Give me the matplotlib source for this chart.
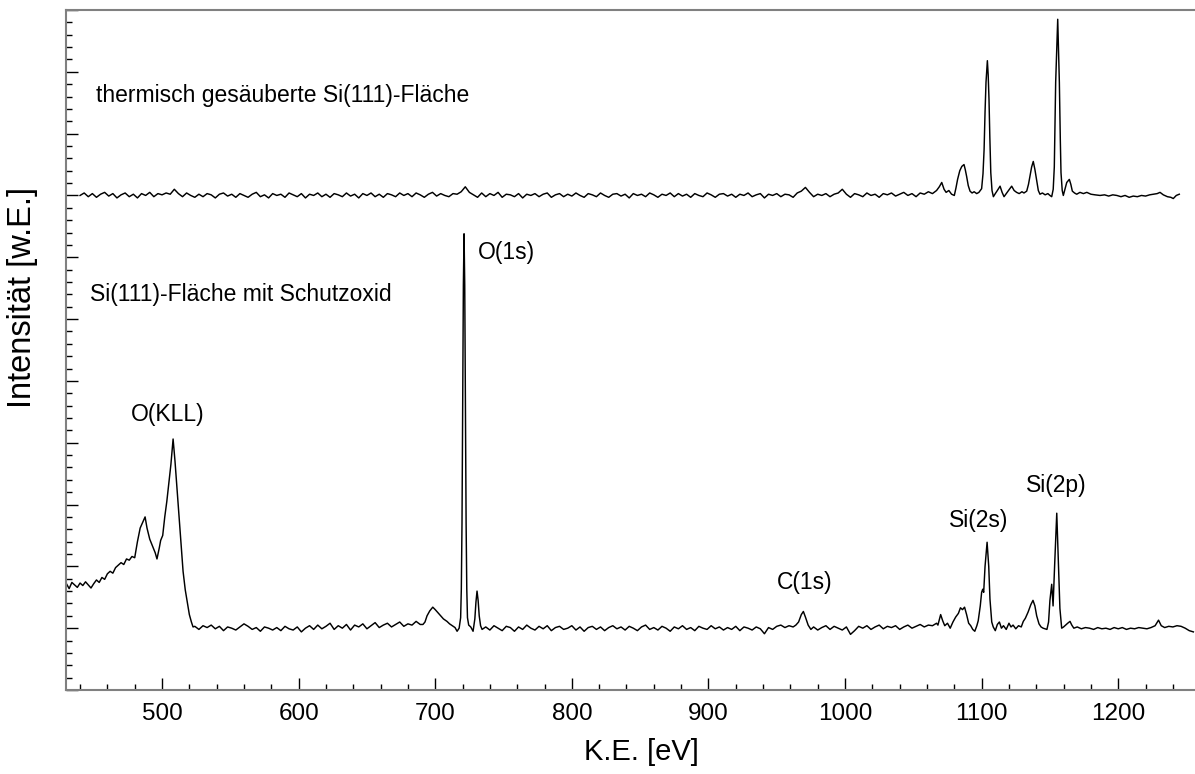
import numpy as np
import matplotlib
matplotlib.use("Agg")
import matplotlib.pyplot as plt
from matplotlib.ticker import MultipleLocator, NullFormatter

plt.rcParams['font.family'] = ['Liberation Sans', 'DejaVu Sans']

# ---------------- Daten ----------------
# untere Kurve: Si(111)-Fläche mit Schutzoxid
oxid_e_a = [430, 432, 434, 436, 438, 440, 442, 444, 446, 448, 450, 452, 454,
            456, 458, 460, 462, 464, 466, 468, 470, 472, 474, 476, 478, 480,
            482, 484, 486, 487.6, 489, 491, 493, 495, 496.3, 498, 499, 500.5,
            502, 503.5, 505, 506.5, 508.1, 509.5, 511, 512.5, 514, 515.4,
            517, 518.3, 520, 521.5, 522.7]
oxid_i_a = [0.72, 0.64, 0.74, 0.70, 0.66, 0.73, 0.69, 0.75, 0.70, 0.65, 0.72,
            0.78, 0.74, 0.82, 0.79, 0.88, 0.92, 0.89, 0.98, 1.02, 1.06, 1.03,
            1.12, 1.10, 1.16, 1.14,
            1.40, 1.62, 1.72, 1.80, 1.62, 1.44, 1.33, 1.22, 1.12, 1.30, 1.42,
            1.50, 1.80, 2.05, 2.35, 2.65, 3.06, 2.70, 2.25, 1.80, 1.35, 0.92,
            0.62, 0.45, 0.22, 0.10, 0.02]
oxid_e_c = np.arange(524, 690, 3)
oxid_i_c = [0.03, -0.02, 0.04, 0.01, 0.05, -0.01, 0.03, -0.04, 0.02, 0.00,
            -0.03, 0.02, 0.07, 0.03, -0.02, 0.01, -0.05, 0.02, 0.00, -0.03,
            0.01, -0.04, 0.03, -0.01, -0.03, 0.02, -0.06, 0.00, 0.04, -0.02,
            0.05, -0.01, 0.03, 0.08, -0.02, 0.04, 0.00, 0.06, -0.03, 0.05,
            0.02, 0.07, -0.01, 0.04, 0.09, 0.01, 0.05, 0.08, 0.02, 0.06,
            0.10, 0.03, 0.07, 0.05, 0.11, 0.06]
oxid_e_d = [691, 692.5, 694, 696, 698.2, 700, 702, 704, 706, 708.6, 710.5,
            712.5, 714.5, 716, 717.5, 718.6, 719.1, 719.6, 720.1, 720.6,
            721.1, 721.6, 722.1, 722.6, 723.1, 723.6, 724.5, 726, 727.7,
            729, 729.8, 730.6, 731.4, 732.2, 733.2, 734.3]
oxid_i_d = [0.06, 0.10, 0.20, 0.28, 0.34, 0.30, 0.25, 0.20, 0.15, 0.11, 0.07,
            0.04, 0.01, -0.05, 0.00, 0.17, 0.63, 1.70, 3.60, 5.55,
            6.38, 5.55, 3.60, 1.70, 0.63, 0.17, 0.05, 0.02, -0.05,
            0.15, 0.42, 0.60, 0.45, 0.20, 0.04, -0.02]
oxid_e_e1 = np.arange(737, 963, 3)
oxid_i_e1 = [0.02, -0.03, 0.04, 0.00, -0.04, 0.03, 0.01, -0.05, 0.02, -0.02,
             0.05, 0.00, -0.03, 0.03, -0.01, 0.04, -0.04, 0.01, 0.03, -0.02,
             0.00, 0.04, -0.03, 0.02, -0.05, 0.01, 0.03, -0.02, 0.02, -0.04,
             0.01, 0.04, -0.01, 0.02, -0.03, 0.03, 0.00, -0.04, 0.02, 0.05,
             -0.02, 0.01, -0.03, 0.03, 0.00, -0.05, 0.02, -0.01, 0.04, -0.02,
             0.01, -0.04, 0.03, 0.00, -0.02, 0.04, -0.01, 0.02, -0.03, 0.01,
             -0.02, 0.03, -0.04, 0.02, 0.00, -0.03, 0.02, -0.01, -0.09, 0.01,
             -0.02, 0.03, 0.05, 0.01, 0.04, 0.02]
oxid_e_c1s = [964, 966, 968, 969.5, 971, 973, 975]
oxid_i_c1s = [0.05, 0.10, 0.22, 0.27, 0.18, 0.05, -0.02]
oxid_e_e2 = np.arange(977, 1068, 3)
oxid_i_e2 = [0.02, -0.03, 0.01, 0.04, -0.02, 0.03, 0.00, -0.03, 0.02, -0.10,
             -0.04, 0.03, 0.00, 0.04, -0.02, 0.02, 0.05, -0.01, 0.03, 0.01,
             0.04, -0.02, 0.02, 0.05, 0.00, 0.03, 0.06, 0.02, 0.05, 0.04,
             0.08]
oxid_e_f = [1068, 1070, 1071.5, 1073, 1075, 1077, 1079, 1081, 1083, 1084.5,
            1086, 1087.5, 1089, 1090.5, 1092, 1093.5, 1095, 1096.5, 1097.5,
            1099, 1100, 1100.8, 1101.5, 1102.5, 1104, 1105.2, 1106.1, 1107.4,
            1108.5, 1110, 1111.5, 1113, 1114.5, 1116, 1118, 1120, 1121.5,
            1123, 1125, 1127, 1129, 1130.5, 1132, 1134, 1136, 1137.6, 1139,
            1140.3, 1142, 1143.5, 1145, 1146.5, 1147.8, 1149, 1150, 1151.3,
            1152.3, 1153.5, 1155, 1156.1, 1157.3, 1158.6, 1160, 1161.5, 1163,
            1164.7, 1166, 1167.5, 1170, 1173, 1176, 1179, 1182, 1185, 1188,
            1191, 1194, 1197, 1200, 1203, 1206, 1209, 1212, 1215, 1218, 1221,
            1224, 1227, 1229.5, 1231.5, 1234, 1237, 1240, 1243, 1246, 1249,
            1252, 1255]
oxid_i_f = [0.05, 0.22, 0.12, 0.04, 0.08, 0.00, 0.10, 0.18, 0.24, 0.33,
            0.30, 0.34, 0.22, 0.08, 0.04, -0.02, -0.05, 0.04, 0.12,
            0.36, 0.58, 0.63, 0.58, 1.00, 1.39, 1.00, 0.47, 0.10,
            0.02, -0.04, 0.06, 0.10, 0.00, 0.04, -0.02, 0.08, 0.02,
            0.05, -0.01, 0.04, 0.02, 0.11, 0.16, 0.26, 0.38, 0.45, 0.36,
            0.20, 0.07, 0.02, 0.00, -0.01, -0.02, 0.10, 0.45, 0.71,
            0.36, 1.05, 1.86, 1.12, 0.32, 0.00, 0.02, 0.05, 0.08,
            0.11, 0.05, 0.00, 0.02, -0.01, 0.01, 0.00, -0.02, 0.01, -0.01,
            0.00, -0.02, 0.01, -0.01, 0.01, -0.02, 0.00, -0.01, 0.01, 0.00, -0.01,
            0.01, 0.04, 0.13, 0.04, 0.01, 0.03, 0.02, 0.04, 0.03, 0.00,
            -0.04, -0.06]

# obere Kurve: thermisch gesäuberte Si(111)-Fläche
rein_e_a = np.arange(440, 1068, 3)
rein_i_a = [0.00, 0.04, -0.02, 0.03, -0.03, 0.02, 0.05, -0.01, 0.03, -0.04,
            0.01, 0.04, -0.02, 0.02, -0.04, 0.03, 0.00, 0.05, -0.02, 0.03,
            0.01, 0.04, 0.02, 0.10, 0.03, -0.02, 0.04, 0.00, -0.03, 0.02,
            -0.02, 0.03, 0.01, -0.04, 0.02, 0.04, -0.01, 0.02, -0.03, 0.03,
            0.00, -0.03, 0.02, 0.05, -0.02, 0.01, -0.04, 0.03, 0.00, 0.02,
            -0.03, 0.04, 0.01, -0.02, 0.03, -0.04, 0.02, 0.00, 0.04, -0.02,
            0.02, -0.03, 0.03, 0.01, -0.02, 0.04, -0.01, 0.02, -0.04, 0.03,
            0.00, 0.04, -0.02, 0.02, -0.03, 0.03, 0.01, -0.02, 0.04, 0.00,
            0.03, -0.02, 0.04, 0.01, -0.03, 0.02, 0.05, -0.01, 0.03, 0.00,
            -0.02, 0.03, 0.02, 0.06, 0.14, 0.05, 0.01, -0.03, 0.04, -0.02,
            0.03, 0.00, 0.05, -0.03, 0.02, 0.01, -0.02, 0.03, -0.04, 0.02,
            0.00, 0.03, -0.02, 0.02, 0.04, -0.03, 0.01, 0.03, -0.02, 0.02,
            -0.01, 0.04, 0.00, -0.03, 0.03, 0.01, -0.02, 0.04, 0.00, -0.03,
            0.02, 0.03, -0.01, 0.02, -0.04, 0.03, 0.00, 0.02, -0.02, 0.04,
            0.01, -0.03, 0.02, 0.00, 0.04, -0.02, 0.03, -0.01, 0.02, -0.03,
            0.03, 0.00, -0.02, 0.04, 0.01, -0.03, 0.02, 0.03, -0.01, 0.02,
            -0.03, 0.02, 0.00, 0.04, -0.02, 0.01, 0.03, -0.04, 0.02, 0.00,
            0.03, -0.02, 0.02, 0.01, -0.03, 0.04, 0.07, 0.13, 0.05, -0.02,
            0.02, 0.00, 0.03, -0.02, 0.02, 0.04, 0.10, 0.02, -0.03, 0.03,
            0.01, -0.02, 0.04, 0.00, 0.02, -0.03, 0.03, 0.01, 0.04, -0.01,
            0.02, 0.05, 0.00, 0.03, -0.02, 0.04, 0.02, 0.06, 0.03, 0.08]
rein_e_b = [1069, 1070.8, 1072.5, 1074, 1076, 1078, 1080, 1081.2, 1082.4,
            1084, 1085.5, 1087.1, 1088, 1089, 1090.2, 1091.5, 1093, 1094.5,
            1096.4, 1098, 1099, 1100, 1101, 1101.8, 1102.5, 1103.2, 1104.2,
            1104.8, 1105.4, 1106, 1106.7, 1107.6, 1108.6, 1110, 1111.5,
            1113.5, 1115, 1116.4, 1118, 1120, 1122, 1123.8, 1125.6, 1127.5,
            1129.5, 1131, 1133, 1134.3, 1135.4, 1136.6, 1137.8, 1139, 1140.3,
            1141.5, 1142.7, 1144.5, 1146.5, 1148.5, 1150, 1151.3, 1152.4,
            1153.2, 1154.2, 1155.7, 1156.9, 1157.6, 1158.1, 1159, 1159.8,
            1161, 1162.3, 1164.2, 1165.3, 1166.4, 1168, 1169.6, 1172, 1174.5,
            1177, 1180, 1183, 1186.7, 1190, 1193, 1196, 1199, 1202, 1205,
            1208, 1211, 1214, 1217, 1220, 1223, 1226, 1228.5, 1230.6, 1233,
            1236, 1238.5, 1240.3, 1242.5, 1244.7]
rein_i_b = [0.14, 0.21, 0.10, 0.05, 0.08, 0.02, 0.00, 0.12, 0.26,
            0.40, 0.47, 0.50, 0.42, 0.31, 0.16, 0.07, 0.04, 0.06,
            0.03, 0.05, 0.08, 0.11, 0.35, 0.74, 1.35, 1.83, 2.18,
            1.95, 1.55, 0.95, 0.37, 0.08, -0.02, 0.03, 0.08,
            0.15, 0.05, -0.02, 0.03, 0.09, 0.15, 0.08, 0.05, 0.03,
            0.06, 0.04, 0.07, 0.18, 0.31, 0.46, 0.55, 0.42, 0.24,
            0.08, 0.02, 0.04, 0.01, 0.03, 0.00, -0.02, 0.10,
            0.46, 1.83, 2.85, 1.83, 0.90, 0.37, 0.08, 0.00,
            0.10, 0.21, 0.26, 0.18, 0.07, 0.04, 0.02, 0.05, 0.03,
            0.05, 0.02, 0.01, 0.00, 0.01, -0.01, 0.01, 0.00, -0.02, 0.00,
            -0.03, -0.01, -0.02, 0.00, -0.01, 0.01, 0.02, 0.03, 0.05, 0.01,
            -0.02, -0.03, -0.05, 0.00, 0.02]
rein_offset = 7.0

energie_oxid = np.concatenate([oxid_e_a, oxid_e_c, oxid_e_d, oxid_e_e1,
                               oxid_e_c1s, oxid_e_e2, oxid_e_f])
intens_oxid = np.concatenate([oxid_i_a, oxid_i_c, oxid_i_d, oxid_i_e1,
                              oxid_i_c1s, oxid_i_e2, oxid_i_f])
energie_rein = np.concatenate([rein_e_a, rein_e_b])
intens_rein = np.concatenate([rein_i_a, rein_i_b]) + rein_offset

# ---------------- Plot ----------------
fig = plt.figure(figsize=(11.95, 7.74), dpi=100)
ax = fig.add_axes([66 / 1195, 84 / 774, 1129 / 1195, 680 / 774])

ax.plot(energie_oxid, intens_oxid, color='black', lw=1.05)
ax.plot(energie_rein, intens_rein, color='black', lw=1.05)

ax.set_xlim(429.7, 1256.2)
ax.set_ylim(-1, 10)

ax.xaxis.set_major_locator(MultipleLocator(100))
ax.xaxis.set_minor_locator(MultipleLocator(20))
ax.yaxis.set_major_locator(MultipleLocator(1))
ax.yaxis.set_minor_locator(MultipleLocator(0.2))
ax.yaxis.set_major_formatter(NullFormatter())

ax.tick_params(which='both', direction='in', top=False, right=False,
               color='black', width=1.0)
ax.tick_params(which='major', length=8.5)
ax.tick_params(which='minor', length=4.3)
ax.tick_params(axis='x', labelsize=17.5, pad=9)

for s in ['left', 'bottom', 'top']:
    ax.spines[s].set_color('#808080')
    ax.spines[s].set_linewidth(1.5)
ax.spines['right'].set_visible(False)

fs = 16.5
ax.text(451.7, 8.51, 'thermisch gesäuberte Si(111)-Fläche', fontsize=fs,
        ha='left', va='baseline')
ax.text(447.0, 5.29, 'Si(111)-Fläche mit Schutzoxid', fontsize=fs,
        ha='left', va='baseline')
ax.text(504, 3.35, 'O(KLL)', fontsize=fs, ha='center', va='baseline')
ax.text(731.3, 5.97, 'O(1s)', fontsize=fs, ha='left', va='baseline')
ax.text(970.7, 0.63, 'C(1s)', fontsize=fs, ha='center', va='baseline')
ax.text(1097.7, 1.63, 'Si(2s)', fontsize=fs, ha='center', va='baseline')
ax.text(1154.8, 2.20, 'Si(2p)', fontsize=fs, ha='center', va='baseline')

fig.text(641 / 1195, 1 - 752 / 774, 'K.E. [eV]', fontsize=21,
         ha='center', va='center')
fig.text(23 / 1195, 1 - 297 / 774, 'Intensität [w.E.]', fontsize=23.5,
         ha='center', va='center', rotation=90)

fig.savefig('out.png', dpi=100)
